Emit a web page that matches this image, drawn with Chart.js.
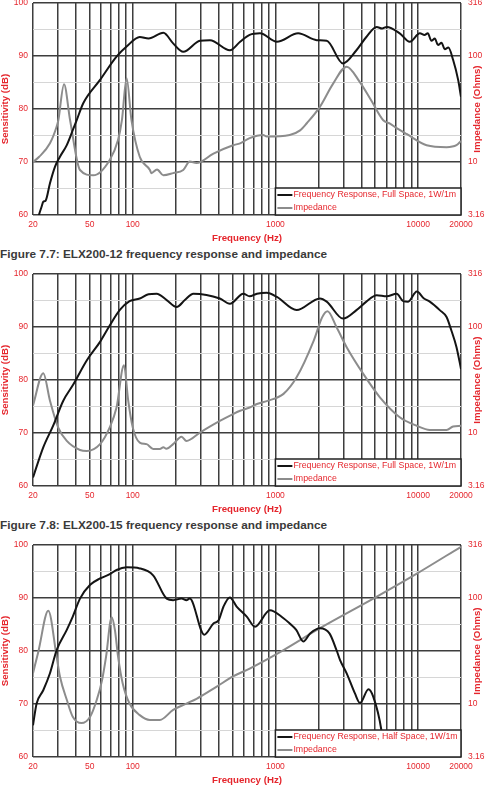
<!DOCTYPE html>
<html><head><meta charset="utf-8">
<script src="https://cdn.jsdelivr.net/npm/chart.js@4.4.1/dist/chart.umd.min.js"></script>
<style>
html,body{margin:0;padding:0;background:#fff;width:492px;height:791px;overflow:hidden;position:relative;}
.wrap{position:absolute;left:0;width:492px;height:254px;}
.cap{position:absolute;left:0;font-family:"Liberation Sans",Arial,sans-serif;font-weight:bold;font-size:11.8px;line-height:14px;color:#3a3a3a;white-space:nowrap;}
</style></head><body>
<div class="wrap" style="top:-9px"><canvas id="c1"></canvas></div>
<div class="cap" style="top:247px">Figure 7.7: ELX200-12 frequency response and impedance</div>
<div class="wrap" style="top:262px"><canvas id="c2"></canvas></div>
<div class="cap" style="top:518px">Figure 7.8: ELX200-15 frequency response and impedance</div>
<div class="wrap" style="top:533px"><canvas id="c3"></canvas></div>
<script>
// ---- axis ticks ----
const freqTicks = [20,30,40,50,60,70,80,90,100,200,300,400,500,600,700,800,900,1000,2000,3000,4000,5000,6000,7000,8000,9000,10000,20000];
const freqLabels = [20,50,100,1000,10000,20000];
const dbTicks = [60,65,70,75,80,85,90,95,100];
const ohmTicks = [3.16,10,100,316];

// ---- chart 1 (top) ----
const c1RespFreq = [21,22,23,23.6,24.5,26.3,28.5,30.9,34.5,38,40.5,45,59,77,90.6,112,129,164,192,226,296,348,480,566,660,780,1024,1444,1950,2290,2980,3700,4340,5130,5600,6030,7440,8740,10300,11100,11700,12400,13100,13800,14600,15400,16300,17600,19100,20000];
const c1RespDb   = [58,60,61.6,62.5,62.7,66,69.1,71,73.2,76,77.9,81.1,85.5,89.9,91.8,93.6,93.3,94.4,92.4,90.8,92.9,93,91.1,92.7,94,94.3,92.7,94.3,93,92.9,88.6,91.1,93.6,95.5,95.2,95.5,94.3,92.7,94.3,94,94.3,92.9,93.3,92.1,92.5,91.3,91.6,89.3,85.5,82.3];
const c1ImpFreq  = [20,22.1,26.3,29.3,30.1,33,36.4,42.7,52.9,69,79,84,90.6,98,112,132,135,148,164,192,226,251,280,368,505,566,660,820,870,1260,1490,1660,2050,2540,3160,3900,4700,5700,6400,7080,8300,11480,15840,18600,20000];
const c1ImpOhm   = [10,11.2,15.0,21.6,24.8,54.3,24.8,8.4,7.49,10.46,16.2,24.8,61.6,24.8,11.2,8.41,7.85,8.5,7.49,7.85,8.41,10.1,9.77,12.0,14.4,15.0,16.8,18.0,17.4,18.0,19.9,23.2,33.1,54.9,79.4,57,38,24.8,22.9,20.9,18.4,14.4,13.8,14.4,15.8];

// ---- chart 2 (middle) ----
const c2RespFreq = [20,23.6,27.7,32.6,38,47.6,59,69,81,95,112,129,147,173,203,232,266,408,480,596,660,742,870,1024,1408,2050,2290,2980,3700,4340,5130,6030,7080,7870,8520,9800,11000,12080,14200,15840,17100,18600,20000];
const c2RespDb   = [61.6,67.3,71.4,76.1,79,83.7,87.2,90.3,93.2,94.9,95.4,96.2,96.3,95.1,93.8,95.1,96.3,95.4,94.4,96.3,95.8,96.3,96.5,95.7,93.2,95.4,94.8,91.6,93.2,94.8,96,95.8,96.3,94.9,94.8,96.7,95.4,94.8,93.2,91.9,89.4,86.2,82.1];
const c2ImpFreq  = [20,23.6,26.3,30,34.5,42.7,47.6,59,69,77,86.8,93,100,112,125,139,155,164,172,192,220,238,296,408,505,566,660,742,890,1140,1408,1860,2130,2320,2680,3160,4120,5420,7440,9800,12080,15840,17600,20000];
const c2ImpOhm   = [18.2,36.7,20.2,11.3,8.41,6.91,6.76,7.85,11.3,17.4,43.6,20.2,11.3,8.12,7.85,7.08,7.08,7.32,7.1,7.85,9.22,8.41,10.1,13.0,15.1,16.2,17.4,18.8,20.2,23.4,33.5,74.9,124,141,100,64.5,36.3,21.6,14.1,11.7,10.7,10.7,11.5,11.7];

// ---- chart 3 (bottom) ----
const c3RespFreq = [20,21.2,23.6,26.3,29.3,34.5,38,42.7,50.3,59,69,77,90.6,112,139,173,192,220,238,251,317,368,400,433,480,535,630,720,914,1140,1260,1400,1570,1750,2050,2400,2680,2840,3160,3610,3920,4490,4850,5530,5800,6200];
const c3RespDb   = [66,70.1,72.6,75.8,80.2,84,86.5,89.9,92.5,93.7,94.5,95.3,95.8,95.6,94.3,89.9,89.6,89.9,89.6,89.9,83.1,85.2,85.8,88.4,90.1,88.4,86.5,84.6,87.7,86.2,85.2,84,81.8,83.3,84.3,83.3,80.2,78.3,75.8,72,70.2,72.8,71.4,65.1,60,56];
const c3ImpFreq  = [20,21.8,25.6,29.3,30.9,34.5,38,43.7,50.3,56,61,65,71.2,75,79,85,95,112,132,155,192,238,280,388,505,660,1140,2050,5000,9800,20000];
const c3ImpOhm   = [19.5,31.2,75.8,27.8,18.2,10.96,7.58,6.6,7.58,10.96,16.8,27.8,66,50.1,27.8,15.7,10.1,7.85,7.08,7.08,8.8,10.1,11.2,14.6,18.2,21.6,32.3,51.9,101,170,305];

const RED = '#e5262d';
const GRID = '#3d3d3d';
const FONT = '"Liberation Sans", Arial, sans-serif';

const overlay = {
  id: 'overlay',
  afterDraw(chart) {
    const {ctx, chartArea: a, scales: {x}} = chart;
    const left = x.getPixelForValue(1000);
    const top = a.bottom - 27;
    ctx.save();
    ctx.fillStyle = '#fff';
    ctx.fillRect(left, top, a.right - left, a.bottom - top);
    ctx.strokeStyle = '#222';
    ctx.lineWidth = 1.5;
    ctx.strokeRect(left, top, a.right - left, a.bottom - top);
    ctx.font = '8.8px ' + FONT;
    ctx.textBaseline = 'middle';
    ctx.textAlign = 'left';
    chart.data.datasets.forEach((d, i) => {
      const yy = top + 7 + i * 13;
      ctx.strokeStyle = d.borderColor;
      ctx.lineWidth = 2;
      ctx.beginPath(); ctx.moveTo(left + 2, yy); ctx.lineTo(left + 17, yy); ctx.stroke();
      ctx.fillStyle = RED;
      ctx.fillText(d.label, left + 18, yy);
    });
    ctx.translate(477, (a.top + a.bottom) / 2);
    ctx.rotate(-Math.PI / 2);
    ctx.font = 'bold 9.7px ' + FONT;
    ctx.textAlign = 'center';
    ctx.fillStyle = RED;
    ctx.fillText('Impedance (Ohms)', 0, 0);
    ctx.restore();
  }
};

function pts(fs, vs) { return fs.map((f, i) => ({x: f, y: vs[i]})); }

function makeChart(id, rf, rv, imf, imv, respLabel) {
  return new Chart(document.getElementById(id), {
    type: 'line',
    data: {datasets: [
      {label: respLabel, data: pts(rf, rv), borderColor: '#141414', borderWidth: 2, pointRadius: 0, cubicInterpolationMode: 'monotone', yAxisID: 'y'},
      {label: 'Impedance', data: pts(imf, imv), borderColor: '#8c8c8c', borderWidth: 2, pointRadius: 0, cubicInterpolationMode: 'monotone', yAxisID: 'y2'}
    ]},
    options: {
      responsive: true, maintainAspectRatio: false, animation: false,
      layout: {padding: {top: 12, left: 0, right: 0, bottom: 0}},
      plugins: {legend: {display: false}, tooltip: {enabled: false}},
      scales: {
        x: {
          type: 'logarithmic', min: 20, max: 20000,
          afterBuildTicks: s => { s.ticks = freqTicks.map(v => ({value: v})); },
          afterFit: s => { s.height = 30; },
          ticks: {autoSkip: false, maxRotation: 0, color: RED, font: {family: FONT, size: 8.5}, padding: 5,
                  callback: v => freqLabels.includes(v) ? String(v) : ''},
          grid: {color: GRID, lineWidth: 1.5, drawTicks: false, tickLength: 0},
          border: {display: false},
          title: {display: true, text: 'Frequency (Hz)', color: RED, font: {family: FONT, size: 9.7, weight: 'bold'}, padding: {top: 0, bottom: 1}}
        },
        y: {
          type: 'linear', position: 'left', min: 60, max: 100,
          afterBuildTicks: s => { s.ticks = dbTicks.map(v => ({value: v})); },
          afterFit: s => { s.width = 33; },
          ticks: {color: RED, font: {family: FONT, size: 8.5}, padding: 5,
                  callback: v => v % 10 === 0 ? String(v) : ''},
          grid: {color: c => (c.tick && c.tick.value % 10 === 0) ? GRID : '#d6d6d6',
                 lineWidth: c => (c.tick && c.tick.value % 10 === 0) ? 1.5 : 1, drawTicks: false, tickLength: 0},
          border: {display: false},
          title: {display: true, text: 'Sensitivity (dB)', color: RED, font: {family: FONT, size: 9.7, weight: 'bold'}, padding: {top: 0, bottom: 0}}
        },
        y2: {
          type: 'logarithmic', position: 'right', min: 3.16, max: 316,
          afterBuildTicks: s => { s.ticks = ohmTicks.map(v => ({value: v})); },
          afterFit: s => { s.width = 31; },
          ticks: {color: RED, font: {family: FONT, size: 8.5}, padding: 7, callback: v => String(v)},
          grid: {drawOnChartArea: false, drawTicks: false, tickLength: 0},
          border: {display: false}
        }
      }
    },
    plugins: [overlay]
  });
}

makeChart('c1', c1RespFreq, c1RespDb, c1ImpFreq, c1ImpOhm, 'Frequency Response, Full Space, 1W/1m');
makeChart('c2', c2RespFreq, c2RespDb, c2ImpFreq, c2ImpOhm, 'Frequency Response, Full Space, 1W/1m');
makeChart('c3', c3RespFreq, c3RespDb, c3ImpFreq, c3ImpOhm, 'Frequency Response, Half Space, 1W/1m');
</script>
</body></html>
